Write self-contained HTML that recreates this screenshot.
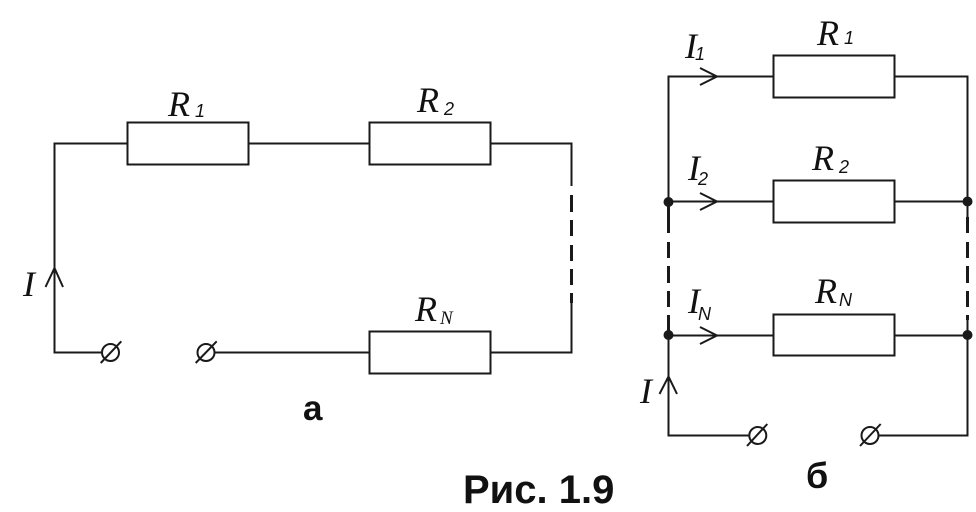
<!DOCTYPE html>
<html><head><meta charset="utf-8"><style>
html,body{margin:0;padding:0;background:#fff;width:976px;height:512px;overflow:hidden}
svg{display:block}
.i{font-family:"Liberation Serif",serif;font-style:italic;fill:#111}
.s{font-family:"Liberation Sans",sans-serif;font-style:italic;fill:#111}
.b{font-family:"Liberation Sans",sans-serif;font-weight:bold;fill:#111}
</style></head><body>
<svg width="976" height="512" viewBox="0 0 976 512" xmlns="http://www.w3.org/2000/svg">
<rect width="976" height="512" fill="#fff"/>
<g fill="none" stroke="#1a1a1a" stroke-width="2">
<!-- left circuit -->
<path d="M102 352.5H54.5V143.5H127.5M248.5 143.5H369.5M490.5 143.5H571.5V186M571.5 303V352.5H490.5M369.5 352.5H214.5"/>
<rect x="127.5" y="122.5" width="121" height="42"/>
<rect x="369.5" y="122.5" width="121" height="42"/>
<rect x="369.5" y="331.5" width="121" height="42"/>
<path d="M45.5 287L54.5 268L63 287"/>
<circle cx="110.5" cy="352.5" r="8.5"/>
<path d="M100.7 363L121.3 341.3"/>
<circle cx="206" cy="352.5" r="8.5"/>
<path d="M195.7 363L216.7 341.3"/>
<path stroke-width="3" d="M571.5 195V212M571.5 220V236M571.5 245V261M571.5 269V285M571.5 293V303"/>
<!-- right circuit -->
<path d="M773.5 76.5H668.5V202M894.5 76.5H967.5V217M668.5 201.5H773.5M894.5 201.5H967.5M668.5 335.5H773.5M894.5 335.5H967.5M967.5 320V435.5H879M668.5 335V435.5H749"/>
<rect x="773.5" y="55.5" width="121" height="42"/>
<rect x="773.5" y="180.5" width="121" height="42"/>
<rect x="773.5" y="314.5" width="121" height="41"/>
<path d="M700 68L717 76.5L700 85M700 193L717 201.5L700 210M700 327L717 335.5L700 344"/>
<path d="M659.5 394L668.5 376.5L677 394"/>
<circle cx="757.8" cy="435.5" r="8.5"/>
<path d="M747 446L767.3 424"/>
<circle cx="870" cy="435.5" r="8.5"/>
<path d="M860 446L880.7 424"/>
<path stroke-width="3" d="M668.5 202V233M668.5 242V258M668.5 266V283M668.5 291V307M668.5 315V335M967.5 217V233M967.5 242V258M967.5 266V283M967.5 291V307M967.5 315V320"/>
</g>
<g fill="#1a1a1a">
<circle cx="668.5" cy="202" r="5"/><circle cx="967.5" cy="201.5" r="5"/>
<circle cx="668.5" cy="335" r="5"/><circle cx="967.5" cy="335" r="5"/>
</g>
<g class="i">
<text x="168" y="116" font-size="36">R</text><text class="s" x="195" y="117" font-size="18">1</text>
<text x="417" y="112" font-size="36">R</text><text class="s" x="444" y="115" font-size="18">2</text>
<text x="415" y="321" font-size="36">R</text><text x="440" y="324" font-size="19">N</text>
<text x="23" y="296" font-size="36">I</text>
<text x="817" y="45" font-size="36">R</text><text class="s" x="844" y="44" font-size="18">1</text>
<text x="812" y="170" font-size="36">R</text><text class="s" x="839" y="173" font-size="18">2</text>
<text x="815" y="303" font-size="36">R</text><text class="s" x="839" y="306" font-size="18">N</text>
<text x="685" y="58" font-size="36">I</text><text class="s" x="695" y="60" font-size="18">1</text>
<text x="688" y="180" font-size="36">I</text><text class="s" x="698" y="185" font-size="18">2</text>
<text x="688" y="313" font-size="36">I</text><text class="s" x="698" y="320" font-size="18">N</text>
<text x="640" y="403" font-size="36">I</text>
</g>
<g class="b">
<text x="303" y="420" font-size="35">а</text>
<text x="806" y="488" font-size="36">б</text>
<text x="463" y="503" font-size="40">Рис. 1.9</text>
</g>
</svg>
</body></html>
